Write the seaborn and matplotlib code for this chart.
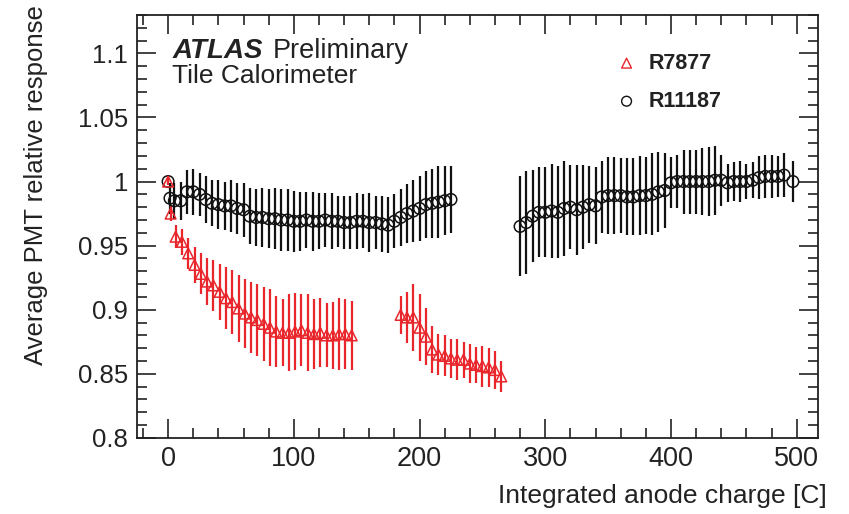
import numpy as np
import pandas as pd
import matplotlib
matplotlib.use("Agg")
import matplotlib.pyplot as plt
import seaborn as sns
from matplotlib.ticker import MultipleLocator

# ---------------- data ----------------
black1_x = [0, 1.5, 5, 10, 15, 20, 25, 30, 35, 40, 45, 50, 55, 60, 65, 70, 75, 80, 85, 90,
            95, 100, 105, 110, 115, 120, 125, 130, 135, 140, 145, 150, 155, 160, 165, 170,
            175, 180, 185, 190, 195, 200, 205, 210, 215, 220, 225]
black1_y = [1.000, 0.987, 0.985, 0.985, 0.992, 0.992, 0.990, 0.986, 0.983, 0.982, 0.981,
            0.981, 0.979, 0.978, 0.973, 0.972, 0.972, 0.971, 0.971, 0.970, 0.970, 0.969,
            0.969, 0.970, 0.969, 0.969, 0.970, 0.969, 0.969, 0.968, 0.968, 0.969, 0.969,
            0.968, 0.968, 0.967, 0.966, 0.969, 0.972, 0.975, 0.977, 0.979, 0.982, 0.983,
            0.984, 0.985, 0.986]
black1_e = [0.002, 0.012, 0.014, 0.015, 0.017, 0.018, 0.017, 0.018, 0.018, 0.019, 0.019,
            0.020, 0.020, 0.021, 0.022, 0.022, 0.023, 0.023, 0.024, 0.024, 0.024, 0.024,
            0.023, 0.022, 0.023, 0.022, 0.021, 0.022, 0.020, 0.021, 0.021, 0.022, 0.021,
            0.023, 0.021, 0.022, 0.022, 0.021, 0.022, 0.023, 0.024, 0.025, 0.026, 0.027,
            0.028, 0.027, 0.026]

black2_x = [280, 285, 290, 295, 300, 305, 310, 315, 320, 325, 330, 335, 340, 345, 350,
            355, 360, 365, 370, 375, 380, 385, 390, 395, 400, 405, 410, 415, 420, 425,
            430, 435, 440, 445, 450, 455, 460, 465, 470, 475, 480, 485, 490, 497]
black2_y = [0.965, 0.968, 0.973, 0.976, 0.976, 0.977, 0.976, 0.979, 0.980, 0.978, 0.980,
            0.982, 0.981, 0.988, 0.989, 0.989, 0.989, 0.988, 0.988, 0.989, 0.989, 0.990,
            0.992, 0.993, 0.999, 1.000, 1.000, 1.000, 1.000, 1.000, 1.000, 1.001, 1.001,
            0.999, 1.000, 1.000, 1.000, 1.001, 1.003, 1.004, 1.004, 1.004, 1.005, 1.000]
black2_e = [0.039, 0.040, 0.036, 0.035, 0.035, 0.037, 0.036, 0.037, 0.033, 0.035, 0.033,
            0.030, 0.030, 0.028, 0.030, 0.030, 0.029, 0.030, 0.030, 0.031, 0.030, 0.032,
            0.031, 0.029, 0.020, 0.021, 0.025, 0.025, 0.025, 0.026, 0.027, 0.027, 0.020,
            0.015, 0.015, 0.016, 0.014, 0.014, 0.017, 0.017, 0.017, 0.016, 0.017, 0.016]

red1_x = [0, 2, 6, 11, 16, 21, 26, 31, 36, 41, 46, 51, 56, 61, 66, 71, 76, 81, 86, 91,
          96, 101, 106, 111, 116, 121, 126, 131, 136, 141, 146]
red1_y = [1.000, 0.975, 0.957, 0.953, 0.944, 0.935, 0.928, 0.922, 0.919, 0.914, 0.909,
          0.906, 0.901, 0.897, 0.894, 0.892, 0.889, 0.886, 0.883, 0.882, 0.882, 0.883,
          0.884, 0.882, 0.881, 0.882, 0.880, 0.880, 0.881, 0.881, 0.880]
red1_e = [0.003, 0.006, 0.009, 0.010, 0.012, 0.014, 0.016, 0.018, 0.020, 0.022, 0.024,
          0.025, 0.026, 0.027, 0.028, 0.028, 0.029, 0.030, 0.028, 0.026, 0.030, 0.030,
          0.028, 0.030, 0.027, 0.027, 0.025, 0.026, 0.028, 0.027, 0.027]

red2_x = [185, 190, 195, 200, 205, 210, 215, 220, 225, 230, 235, 240, 245, 250, 255, 260, 265]
red2_y = [0.896, 0.894, 0.894, 0.886, 0.879, 0.869, 0.865, 0.864, 0.862, 0.861, 0.861,
          0.858, 0.857, 0.856, 0.855, 0.853, 0.848]
red2_e = [0.015, 0.020, 0.026, 0.026, 0.022, 0.018, 0.016, 0.016, 0.015, 0.016, 0.014,
          0.015, 0.014, 0.016, 0.015, 0.015, 0.012]

series_names = ["R7877", "R11187"]
x_label = "Integrated anode charge [C]"
y_label = "Average PMT relative response"
y_tick_values = [0.8, 0.85, 0.9, 0.95, 1.0, 1.05, 1.1]
y_tick_labels = ["0.8", "0.85", "0.9", "0.95", "1", "1.05", "1.1"]

# ---------------- build table ----------------
df = pd.concat([
    pd.DataFrame({"x": red1_x + red2_x, "y": red1_y + red2_y, "e": red1_e + red2_e,
                  "pmt": series_names[0]}),
    pd.DataFrame({"x": black1_x + black2_x, "y": black1_y + black2_y,
                  "e": black1_e + black2_e, "pmt": series_names[1]}),
], ignore_index=True)

sns.set_theme(style="white")
plt.rcParams["font.family"] = ["Liberation Sans", "DejaVu Sans"]

fig = plt.figure(figsize=(8.49, 5.14), dpi=100)
ax = fig.add_axes([0.161, 0.148, 0.8025, 0.823])

colors = {series_names[0]: "#e8262b", series_names[1]: "#111111"}
markers = {series_names[0]: "^", series_names[1]: "o"}
txt = "#222222"

for name in [series_names[1], series_names[0]]:
    sub = df[df["pmt"] == name]
    ax.errorbar(sub["x"], sub["y"], yerr=sub["e"], fmt="none",
                ecolor=colors[name], elinewidth=1.6, capsize=0, zorder=2)

for name in [series_names[1], series_names[0]]:
    sub = df[df["pmt"] == name]
    sns.scatterplot(data=sub, x="x", y="y", ax=ax, marker=markers[name],
                    s=70 if name == series_names[1] else 60,
                    facecolor="none", edgecolor=colors[name], linewidth=1.1,
                    legend=False, zorder=3)

ax.set_xlim(-25, 517)
ax.set_ylim(0.8, 1.13)
ax.xaxis.set_major_locator(MultipleLocator(100))
ax.xaxis.set_minor_locator(MultipleLocator(20))
ax.yaxis.set_minor_locator(MultipleLocator(0.01))
ax.set_yticks(y_tick_values)
ax.set_yticklabels(y_tick_labels)
ax.tick_params(which="both", direction="in", top=True, right=True,
               bottom=True, left=True, color=txt, width=1.2)
ax.tick_params(which="major", length=14, pad=6, labelcolor=txt)
ax.tick_params(axis="x", which="major", labelsize=19.5)
ax.tick_params(axis="y", which="major", labelsize=18.5)
ax.tick_params(which="minor", length=7)
for sp in ax.spines.values():
    sp.set_color(txt)
    sp.set_linewidth(1.3)

ax.set_xlabel(x_label, fontsize=19, color=txt, ha="right", va="top")
ax.xaxis.set_label_coords(1.013, -0.11)
ax.set_ylabel(y_label, fontsize=18.5, color=txt, ha="right", va="bottom")
ax.yaxis.set_label_coords(-0.13, 1.024)

# ATLAS label
ax.text(0.052, 0.898, "ATLAS", transform=ax.transAxes, fontsize=20,
        fontweight="bold", fontstyle="italic", color=txt, va="baseline")
ax.text(0.2, 0.898, "Preliminary", transform=ax.transAxes, fontsize=19.5,
        color=txt, va="baseline")
ax.text(0.052, 0.839, "Tile Calorimeter", transform=ax.transAxes, fontsize=19,
        color=txt, va="baseline")

# legend
ax.scatter([0.719], [0.886], transform=ax.transAxes, marker="^", s=50,
           facecolor="none", edgecolor=colors[series_names[0]], linewidth=1.0)
ax.text(0.752, 0.886, series_names[0], transform=ax.transAxes, fontsize=15.5,
        fontweight="bold", color=txt, va="center")
ax.scatter([0.719], [0.796], transform=ax.transAxes, marker="o", s=50,
           facecolor="none", edgecolor=colors[series_names[1]], linewidth=1.0)
ax.text(0.752, 0.796, series_names[1], transform=ax.transAxes, fontsize=15.5,
        fontweight="bold", color=txt, va="center")

fig.savefig("out.png", dpi=100)
